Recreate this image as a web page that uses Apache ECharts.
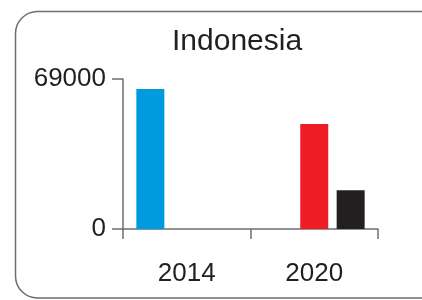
<!DOCTYPE html>
<html>
<head>
<meta charset="utf-8">
<script src="https://cdn.jsdelivr.net/npm/echarts@6/dist/echarts.min.js"></script>
<style>
  html, body { margin: 0; padding: 0; background: #fff; }
  #chart { width: 422px; height: 300px; }
</style>
</head>
<body>
<div id="chart"></div>
<script>
var years = ['2014', '2020'];
var blueValues = [64400, '-'];
var redValues = ['-', 48300];
var blackValues = ['-', 17800];
var yMax = 69000;

var chart = echarts.init(document.getElementById('chart'), null, {renderer: 'canvas'});
var axisColor = '#6d6e71';
var textColor = '#231f20';
var font = 'Liberation Sans, Arial, Helvetica, sans-serif';

chart.setOption({
    animation: false,
    textStyle: {fontFamily: font},
    title: {
        text: 'Indonesia',
        left: 172,
        top: 27,
        padding: 0,
        textStyle: {fontSize: 30, fontWeight: 'normal', color: textColor, fontFamily: font}
    },
    graphic: [{
        type: 'rect',
        shape: {x: 15.5, y: 11.5, width: 430, height: 286.5, r: 22},
        style: {fill: 'none', stroke: axisColor, lineWidth: 1.5},
        silent: true
    }],
    grid: {left: 123, right: 44, top: 79, bottom: 71},
    xAxis: {
        type: 'category',
        data: years,
        axisLine: {lineStyle: {color: axisColor, width: 1.5}},
        axisTick: {show: true, length: 10, lineStyle: {color: axisColor, width: 1.5}},
        axisLabel: {fontSize: 26, color: textColor, margin: 32, fontFamily: font}
    },
    yAxis: {
        type: 'value',
        min: 0,
        max: yMax,
        interval: yMax,
        splitLine: {show: false},
        axisLine: {show: true, lineStyle: {color: axisColor, width: 1.5}},
        axisTick: {show: true, length: 11, lineStyle: {color: axisColor, width: 1.5}},
        axisLabel: {
            fontSize: 26, color: textColor, margin: 17, fontFamily: font,
            formatter: function (v) { return String(v); }
        }
    },
    series: [
        {name: 'a', type: 'bar', data: blueValues, barWidth: 28, barGap: '30%', itemStyle: {color: '#009ade'}},
        {name: 'b', type: 'bar', data: redValues, barWidth: 28, barGap: '30%', itemStyle: {color: '#ee1c25'}},
        {name: 'c', type: 'bar', data: blackValues, barWidth: 28, barGap: '30%', itemStyle: {color: '#231f20'}}
    ]
});
</script>
</body>
</html>
